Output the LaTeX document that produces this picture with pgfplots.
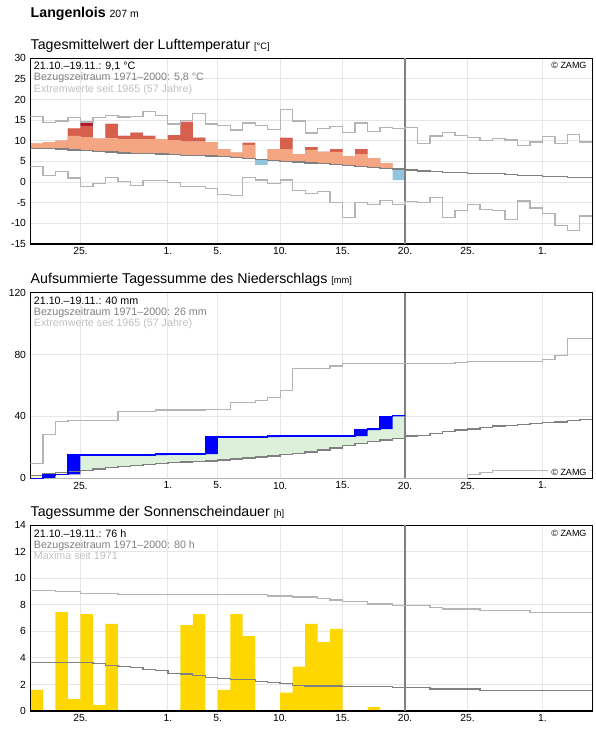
\documentclass[border=0pt]{standalone}
\usepackage{fontspec}
\setmainfont{Liberation Sans}
\usepackage{pgfplots}
\pgfplotsset{compat=1.18}
\usepackage{pgfplotstable}

\definecolor{salmonc}{HTML}{F4A582}
\definecolor{redc}{HTML}{D6604D}
\definecolor{crimc}{HTML}{B2182B}
\definecolor{lbluec}{HTML}{92C5DE}
\definecolor{meanc}{HTML}{808080}
\definecolor{extc}{HTML}{B4B4B4}
\definecolor{gridc}{HTML}{E6E6E6}
\definecolor{greenc}{HTML}{DDF1DA}
\definecolor{yellowc}{HTML}{FFF7C6}
\definecolor{sunc}{HTML}{FFD700}
\definecolor{txtgray}{HTML}{808080}
\definecolor{txtlight}{HTML}{C0C0C0}

% ---------- temperature: daily values (t = day index, 0 = 21.10.)
\pgfplotstableread{
t mean sal red crim blue
0 8.2 9.4 9.4 9.4 8.2
1 8.1 9.7 9.7 9.7 8.1
2 8.0 10.0 10.0 10.0 8.0
3 7.8 11.2 13.0 13.0 7.8
4 7.6 10.9 13.6 14.6 7.6
5 7.4 10.6 10.6 10.6 7.4
6 7.3 10.6 14.1 14.1 7.3
7 7.1 10.5 11.2 11.2 7.1
8 7.0 10.5 12.0 12.0 7.0
9 6.9 10.4 11.2 11.2 6.9
10 6.8 10.4 10.4 10.4 6.8
11 6.7 10.2 11.4 11.4 6.7
12 6.5 9.8 14.6 14.6 6.5
13 6.4 9.8 10.8 10.8 6.4
14 6.3 9.7 9.7 9.7 6.3
15 6.2 8.0 8.0 8.0 6.2
16 6.0 7.2 7.2 7.2 6.0
17 5.75 9.0 9.5 9.5 5.75
18 5.5 5.5 5.5 5.5 4.2
19 5.2 8.0 8.0 8.0 5.2
20 5.05 8.0 10.7 10.7 5.05
21 4.9 6.8 6.8 6.8 4.9
22 4.6 7.8 8.5 8.5 4.6
23 4.45 7.3 7.3 7.3 4.45
24 4.2 7.3 8.0 8.0 4.2
25 4.0 6.3 6.3 6.3 4.0
26 3.75 6.8 8.0 8.0 3.75
27 3.6 5.8 5.8 5.8 3.6
28 3.35 4.6 4.6 4.6 3.35
29 3.2 3.2 3.2 3.2 0.5
30 3.2 3.2 3.2 3.2 0.5
}\tbar

% ---------- temperature: climate lines
\pgfplotstableread{
t mean upper lower
0 8.2 15.9 3.7
1 8.1 14.4 1.6
2 8.0 14.8 2.6
3 7.8 15.6 1.0
4 7.6 14.6 -1.0
5 7.4 15.6 -0.3
6 7.3 16.2 1.2
7 7.1 15.8 0.2
8 7.0 15.9 -0.8
9 6.9 17.1 0.4
10 6.8 16.2 0.4
11 6.7 14.1 -0.1
12 6.5 14.9 -1.1
13 6.4 16.7 -1.1
14 6.3 14.1 -1.6
15 6.2 13.8 -3.0
16 6.0 12.6 -3.2
17 5.75 14.3 1.2
18 5.5 13.8 0.5
19 5.2 12.8 -0.3
20 5.05 17.6 0.5
21 4.9 14.8 -2.0
22 4.6 11.9 -2.7
23 4.45 13.0 -2.2
24 4.2 13.4 -4.9
25 4.0 12.0 -8.5
26 3.75 14.3 -5.0
27 3.6 12.3 -5.4
28 3.35 13.3 -4.4
29 3.2 13.0 -5.5
30 2.9 13.3 -4.7
31 2.7 9.4 -5.0
32 2.55 11.2 -3.8
33 2.4 12.0 -8.5
34 2.4 11.3 -6.9
35 2.15 10.8 -5.5
36 2.15 10.0 -6.6
37 2.15 10.6 -6.9
38 1.9 10.2 -9.0
39 1.55 8.9 -4.6
40 1.55 9.7 -6.3
41 1.4 11.1 -7.6
42 1.4 9.4 -10.6
43 1.15 11.6 -11.7
44 1.15 9.7 -8.2
45 1.15 9.7 -8.2
}\tline

% ---------- precipitation: observed cumulative
\pgfplotstableread{
t obs prev mean gtop ybot
0 0 0 1.9 1.9 0
1 2.2 0 2.8 2.8 2.2
2 2.5 2.2 3.6 3.6 2.5
3 15.0 2.5 4.3 15.0 4.3
4 15.0 15.0 5.2 15.0 5.2
5 15.0 15.0 6.0 15.0 6.0
6 15.0 15.0 6.9 15.0 6.9
7 15.0 15.0 7.7 15.0 7.7
8 15.0 15.0 8.4 15.0 8.4
9 15.0 15.0 9.0 15.0 9.0
10 15.7 15.0 9.4 15.7 9.4
11 15.7 15.7 10.1 15.7 10.1
12 15.7 15.7 10.5 15.7 10.5
13 15.7 15.7 10.9 15.7 10.9
14 26.6 15.7 11.2 26.6 11.2
15 26.6 26.6 11.8 26.6 11.8
16 26.6 26.6 12.5 26.6 12.5
17 26.6 26.6 13.1 26.6 13.1
18 26.6 26.6 13.7 26.6 13.7
19 27.3 26.6 14.4 27.3 14.4
20 27.3 27.3 15.2 27.3 15.2
21 27.3 27.3 16.1 27.3 16.1
22 27.3 27.3 17.0 27.3 17.0
23 27.3 27.3 18.2 27.3 18.2
24 27.3 27.3 19.5 27.3 19.5
25 27.3 27.3 21.3 27.3 21.3
26 31.1 27.3 22.5 31.1 22.5
27 31.8 31.1 23.6 31.8 23.6
28 40.1 31.8 24.7 40.1 24.7
29 40.5 40.1 25.6 40.5 25.6
30 40.5 40.1 25.6 40.5 25.6
}\pbar

% ---------- precipitation: climate lines
\pgfplotstableread{
t mean upper lower
0 1.9 9.7 0
1 2.8 28.3 0
2 3.6 36.7 0
3 4.3 37.4 0
4 5.2 37.4 0
5 6.0 37.4 0
6 6.9 37.4 0
7 7.7 43.2 0
8 8.4 43.2 0
9 9.0 43.2 0
10 9.4 44.2 0
11 10.1 44.2 0
12 10.5 44.2 0
13 10.9 44.2 0
14 11.2 44.4 0
15 11.8 44.4 0
16 12.5 48.9 0
17 13.1 48.9 0
18 13.7 50.5 0
19 14.4 52.2 0
20 15.2 56.9 0
21 16.1 70.8 0
22 17.0 70.8 0
23 18.2 70.8 0
24 19.5 72.6 0
25 21.3 74.1 0
26 22.5 74.1 0
27 23.6 74.1 0
28 24.7 74.1 0
29 25.6 74.1 0
30 27.3 74.1 0
31 27.7 74.1 0
32 28.8 74.1 0
33 30.1 74.1 0
34 31.1 74.7 0
35 31.8 75.6 2.6
36 32.8 75.6 3.9
37 33.7 75.6 5.2
38 34.3 75.6 5.2
39 34.8 75.6 5.2
40 35.4 75.6 5.2
41 36.1 76.6 5.2
42 36.5 79.4 5.2
43 37.4 90.2 5.2
44 38.0 90.2 5.2
45 38.0 90.2 5.2
}\pline

% ---------- sunshine: daily sums
\pgfplotstableread{
t sun
0 1.6
1 0
2 7.46
3 0.9
4 7.31
5 0.45
6 6.56
7 0
8 0
9 0
10 0
11 0
12 6.48
13 7.31
14 0
15 1.6
16 7.31
17 5.65
18 0
19 0
20 1.38
21 3.34
22 6.56
23 5.2
24 6.2
25 0
26 0
27 0.3
28 0
29 0.08
30 0.08
}\sbar

% ---------- sunshine: climate lines
\pgfplotstableread{
t mean upper
0 3.67 9.1
1 3.67 9.1
2 3.67 9.0
3 3.67 9.0
4 3.67 8.87
5 3.59 8.87
6 3.44 8.87
7 3.37 8.8
8 3.29 8.8
9 3.12 8.8
10 3.07 8.8
11 2.84 8.8
12 2.79 8.8
13 2.69 8.8
14 2.54 8.8
15 2.44 8.8
16 2.39 8.8
17 2.36 8.8
18 2.21 8.8
19 2.14 8.67
20 2.09 8.67
21 1.94 8.6
22 1.88 8.6
23 1.88 8.47
24 1.88 8.37
25 1.83 8.24
26 1.83 8.24
27 1.83 8.07
28 1.83 8.07
29 1.78 7.97
30 1.78 7.97
31 1.78 7.94
32 1.66 7.79
33 1.66 7.69
34 1.66 7.69
35 1.66 7.69
36 1.56 7.59
37 1.56 7.59
38 1.56 7.59
39 1.56 7.59
40 1.56 7.44
41 1.56 7.44
42 1.56 7.44
43 1.56 7.44
44 1.56 7.44
45 1.56 7.44
}\sline

\pgfplotsset{
  panel/.style={
    scale only axis, width=561.8pt, height=185.7pt, anchor=south west,
    xmin=0, xmax=45,
    xtick={4,11,15,20,25,30,35,41},
    xticklabels={25.,1.,5.,10.,15.,20.,25.,1.},
    major tick length=0pt,
    xmajorgrids, ymajorgrids,
    grid style={gridc, line width=1pt},
    axis line style={black, line width=1.5pt},
    tick label style={font=\fontsize{10.3}{12}\selectfont},
    yticklabel style={xshift=-1pt},
  },
  overlay/.style={panel, xtick=\empty, ytick=\empty,
    xmajorgrids=false, ymajorgrids=false},
  lmean/.style={const plot, meanc, line width=1.4pt},
  lext/.style={const plot, extc, line width=1.3pt},
  vline/.style={meanc, line width=1.4pt},
}

\newcommand{\ttlf}{\fontsize{14.2}{16}\selectfont}
\newcommand{\unitf}{\fontsize{9.3}{11}\selectfont}
\newcommand{\infof}{\fontsize{10.7}{12}\selectfont}
\newcommand{\zamgf}{\fontsize{9}{11}\selectfont}

\begin{document}
\begin{tikzpicture}
\useasboundingbox (0,0) rectangle (596pt,-729pt);

% ================= Panel 1: temperature (fills, stacked from the observed/mean base)
\begin{axis}[panel, name=p1, at={(30.5pt,-244pt)}, stack plots=y,
  ymin=-15, ymax=30, ytick={-15,-10,-5,0,5,10,15,20,25,30},
  yticklabels={-15,-10,-5,0,5,10,15,20,25,30}]
\addplot[const plot, draw=none] table[x=t,y=blue]{\tbar};
\addplot[const plot, draw=none, fill=lbluec] table[x=t,y expr=\thisrow{mean}-\thisrow{blue}]{\tbar} \closedcycle;
\addplot[const plot, draw=none, fill=salmonc] table[x=t,y expr=\thisrow{sal}-\thisrow{mean}]{\tbar} \closedcycle;
\addplot[const plot, draw=none, fill=redc] table[x=t,y expr=\thisrow{red}-\thisrow{sal}]{\tbar} \closedcycle;
\addplot[const plot, draw=none, fill=crimc] table[x=t,y expr=\thisrow{crim}-\thisrow{red}]{\tbar} \closedcycle;
\end{axis}
\begin{axis}[overlay, at={(30.5pt,-244pt)}, ymin=-15, ymax=30]
\addplot[vline] coordinates {(30,-15) (30,30)};
\addplot[lext] table[x=t,y=upper]{\tline};
\addplot[lext] table[x=t,y=lower]{\tline};
\addplot[lmean] table[x=t,y=mean]{\tline};
\end{axis}

% ================= Panel 2: precipitation
\begin{axis}[panel, name=p2, at={(30.5pt,-478.3pt)}, stack plots=y,
  ymin=0, ymax=120, ytick={0,40,80,120}, yticklabels={0,40,80,120}]
\addplot[const plot, draw=none] table[x=t,y=ybot]{\pbar};
\addplot[const plot, draw=none, fill=yellowc] table[x=t,y expr=\thisrow{mean}-\thisrow{ybot}]{\pbar} \closedcycle;
\addplot[const plot, draw=none, fill=greenc] table[x=t,y expr=\thisrow{gtop}-\thisrow{mean}]{\pbar} \closedcycle;
\end{axis}
\begin{axis}[overlay, at={(30.5pt,-478.3pt)}, stack plots=y, ymin=0, ymax=120]
\addplot[const plot, draw=none] table[x=t,y=prev]{\pbar};
\addplot[const plot, draw=none, fill=blue] table[x=t,y expr=\thisrow{obs}-\thisrow{prev}]{\pbar} \closedcycle;
\end{axis}
\begin{axis}[overlay, at={(30.5pt,-478.3pt)}, ymin=0, ymax=120]
\addplot[vline] coordinates {(30,0) (30,120)};
\addplot[lext] table[x=t,y=upper]{\pline};
\addplot[lext] table[x=t,y=lower]{\pline};
\addplot[lmean] table[x=t,y=mean]{\pline};
\addplot[const plot, blue, line width=1.4pt] table[x=t,y=obs]{\pbar};
\end{axis}

% ================= Panel 3: sunshine
\begin{axis}[panel, name=p3, at={(30.5pt,-711pt)},
  ymin=0, ymax=14, ytick={0,2,4,6,8,10,12,14}, yticklabels={0,2,4,6,8,10,12,14}]
\addplot[const plot, fill=sunc, draw=none] table[x=t,y=sun]{\sbar} \closedcycle;
\end{axis}
\begin{axis}[overlay, at={(30.5pt,-711pt)}, ymin=0, ymax=14]
\addplot[vline] coordinates {(30,0) (30,14)};
\addplot[lext] table[x=t,y=upper]{\sline};
\addplot[lmean] table[x=t,y=mean]{\sline};
\end{axis}

% ================= texts
\node[anchor=base west, inner sep=0pt, font=\ttlf, yshift=40.6pt] at (p1.north west)
  {\textbf{Langenlois} {\fontsize{10.5}{12}\selectfont 207 m}};
\node[anchor=base west, inner sep=0pt, font=\ttlf, yshift=9.3pt] at (p1.north west)
  {Tagesmittelwert der Lufttemperatur {\unitf[°C]}};
\node[anchor=base west, inner sep=0pt, font=\infof, xshift=3.2pt, yshift=-10.8pt] at (p1.north west) {21.10.–19.11.: 9,1 °C};
\node[anchor=base west, inner sep=0pt, font=\infof, text=txtgray, xshift=3.2pt, yshift=-22.3pt] at (p1.north west) {Bezugszeitraum 1971–2000: 5,8 °C};
\node[anchor=base west, inner sep=0pt, font=\infof, text=txtlight, xshift=3.2pt, yshift=-33.8pt] at (p1.north west) {Extremwerte seit 1965 (57 Jahre)};
\node[anchor=base east, inner sep=0pt, font=\zamgf, xshift=-5.6pt, yshift=-10pt] at (p1.north east) {© ZAMG};

\node[anchor=base west, inner sep=0pt, font=\ttlf, yshift=9.3pt] at (p2.north west)
  {Aufsummierte Tagessumme des Niederschlags {\unitf[mm]}};
\node[anchor=base west, inner sep=0pt, font=\infof, xshift=3.2pt, yshift=-11.8pt] at (p2.north west) {21.10.–19.11.: 40 mm};
\node[anchor=base west, inner sep=0pt, font=\infof, text=txtgray, xshift=3.2pt, yshift=-23.1pt] at (p2.north west) {Bezugszeitraum 1971–2000: 26 mm};
\node[anchor=base west, inner sep=0pt, font=\infof, text=txtlight, xshift=3.2pt, yshift=-34.3pt] at (p2.north west) {Extremwerte seit 1965 (57 Jahre)};
\node[anchor=base east, fill=white, inner xsep=3pt, inner ysep=1.5pt, font=\zamgf, xshift=-2.6pt, yshift=2.6pt] at (p2.south east) {© ZAMG};

\node[anchor=base west, inner sep=0pt, font=\ttlf, yshift=9.3pt] at (p3.north west)
  {Tagessumme der Sonnenscheindauer {\unitf[h]}};
\node[anchor=base west, inner sep=0pt, font=\infof, xshift=3.2pt, yshift=-12pt] at (p3.north west) {21.10.–19.11.: 76 h};
\node[anchor=base west, inner sep=0pt, font=\infof, text=txtgray, xshift=3.2pt, yshift=-23pt] at (p3.north west) {Bezugszeitraum 1971–2000: 80 h};
\node[anchor=base west, inner sep=0pt, font=\infof, text=txtlight, xshift=3.2pt, yshift=-34pt] at (p3.north west) {Maxima seit 1971};
\node[anchor=base east, inner sep=0pt, font=\zamgf, xshift=-5.6pt, yshift=-11.4pt] at (p3.north east) {© ZAMG};
\end{tikzpicture}
\end{document}
